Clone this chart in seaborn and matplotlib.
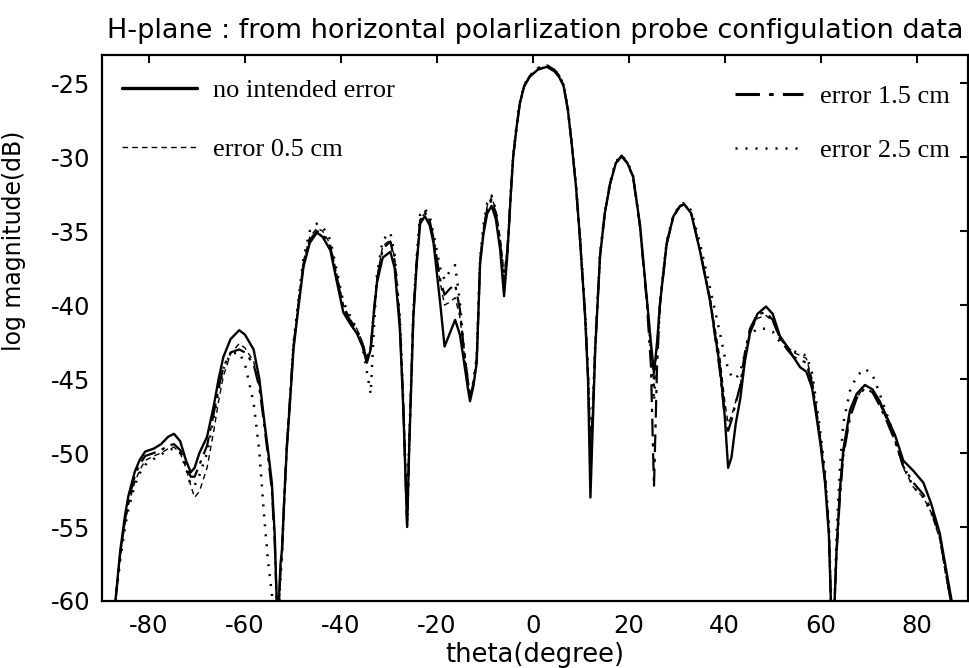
import matplotlib
matplotlib.use("Agg")
import matplotlib.pyplot as plt
import seaborn as sns
from matplotlib.lines import Line2D

theta = [
    -87.2, -87.0, -86.0, -85.0, -84.3, -83.0, -82.0, -80.8, -79.0, -77.5,
    -76.0, -74.8, -73.5, -72.3, -71.3, -70.5, -69.5, -67.9, -66.5, -65.5,
    -64.5, -63.0, -61.2, -60.0, -58.2, -57.0, -56.1, -55.2, -54.4, -53.8,
    -53.2, -52.6, -52.3, -51.8, -51.3, -50.5, -49.9, -48.8, -47.8, -46.5,
    -45.0, -43.8, -42.2, -40.8, -39.5, -38.0, -36.7, -35.5, -34.6, -33.8,
    -33.2, -32.5, -31.3, -29.7, -28.8, -27.7, -27.0, -26.5, -26.2, -25.8,
    -24.9, -24.2, -23.5, -22.5, -21.5, -20.7, -19.3, -18.4, -17.3, -16.2,
    -15.2, -14.5, -13.6, -13.1, -12.4, -11.7, -11.0, -10.3, -9.5, -8.6,
    -7.7, -6.8, -6.0, -5.4, -5.1, -4.6, -4.1, -3.4, -2.7, -1.8,
    -0.6, 1.0, 2.9, 4.5, 5.5, 6.4, 7.3, 8.1, 9.0, 9.8,
    10.9, 11.5, 12.0, 12.5, 13.0, 14.0, 15.0, 16.1, 17.3, 18.5,
    19.7, 20.9, 22.3, 23.7, 24.6, 25.25, 25.9, 26.5, 27.9, 29.3,
    30.7, 31.6, 33.0, 34.8, 36.9, 39.0, 40.0, 40.7, 41.4, 42.3,
    43.2, 44.2, 45.25, 46.8, 48.6, 50.0, 51.5, 53.0, 54.3, 55.7,
    57.0, 58.2, 59.1, 60.0, 60.9, 61.7, 62.3, 62.9, 63.3, 64.0,
    64.7, 66.1, 67.5, 69.2, 70.8, 72.3, 73.7, 75.5, 77.2, 79.3,
    81.4, 83.0, 84.8, 86.2, 87.3, 87.6,
]

no_error = [
    -62, -60, -56.6, -54.2, -52.9, -51.3, -50.5, -49.9, -49.7, -49.4,
    -48.9, -48.7, -49.2, -50.5, -51.3, -51.0, -50.0, -48.9, -46.8, -45.0,
    -43.5, -42.3, -41.7, -42.0, -43.0, -45.0, -47.5, -49.8, -52.0, -55.5,
    -62, -57.5, -56.6, -53.0, -49.8, -46.0, -43.0, -40.0, -37.4, -35.8,
    -35.1, -35.4, -36.3, -38.5, -40.5, -41.3, -41.9, -42.8, -43.9, -43.0,
    -40.8, -38.5, -36.8, -36.4, -37.5, -41.7, -47.0, -52.0, -55.0, -50.0,
    -40.8, -37.2, -34.5, -34.0, -34.6, -35.8, -39.9, -42.8, -41.9, -41.0,
    -42.0, -43.5, -45.5, -46.5, -45.5, -43.9, -37.2, -35.2, -33.8, -33.3,
    -34.2, -36.3, -39.4, -37.0, -35.4, -32.5, -30.0, -28.0, -26.35, -25.2,
    -24.55, -24.1, -23.9, -24.2, -24.6, -25.2, -26.8, -29.1, -32.0, -35.4,
    -40.8, -45.0, -53.0, -48.0, -43.0, -36.7, -33.8, -31.8, -30.4, -29.96,
    -30.4, -31.3, -34.5, -39.4, -42.5, -44.6, -42.5, -39.9, -35.8, -34.0,
    -33.3, -33.2, -33.8, -36.3, -39.65, -44.2, -47.5, -51.0, -50.3, -48.0,
    -46.4, -43.8, -41.9, -40.6, -40.1, -40.6, -42.1, -42.8, -43.5, -44.2,
    -44.5, -45.6, -47.5, -49.5, -52.0, -55.5, -62, -60, -56.6, -52.5,
    -49.8, -47.1, -46.0, -45.4, -45.7, -46.5, -47.5, -48.8, -50.5, -51.2,
    -52.0, -53.4, -55.4, -58.0, -60.0, -62,
]

error_05 = [
    -62, -60, -57.0, -54.8, -53.5, -52.0, -51.2, -50.5, -50.2, -50.0,
    -49.7, -49.6, -50.0, -51.0, -52.2, -53.0, -52.6, -51.0, -48.5, -46.5,
    -44.8, -43.3, -42.6, -42.9, -43.8, -45.5, -47.6, -50.0, -52.5, -56.0,
    -62, -58.0, -57.0, -53.0, -49.5, -45.6, -42.7, -39.7, -37.0, -35.4,
    -34.8, -35.0, -35.9, -38.0, -40.0, -41.0, -41.6, -42.5, -43.5, -42.8,
    -40.5, -38.2, -36.0, -35.6, -36.8, -41.0, -46.5, -51.5, -54.5, -49.5,
    -40.5, -37.0, -34.2, -33.8, -34.3, -35.5, -38.5, -40.0, -39.8, -39.5,
    -40.8, -42.8, -45.0, -46.2, -45.2, -43.6, -37.0, -34.8, -33.3, -32.7,
    -33.6, -35.5, -37.8, -36.4, -35.2, -32.4, -30.0, -28.0, -26.35, -25.2,
    -24.5, -24.1, -23.8, -24.1, -24.5, -25.1, -26.8, -29.1, -32.0, -35.4,
    -40.6, -44.5, -49.5, -47.0, -42.8, -36.7, -33.8, -31.8, -30.4, -29.9,
    -30.4, -31.4, -34.6, -39.5, -42.8, -45.5, -43.0, -40.0, -35.9, -34.0,
    -33.3, -33.2, -33.8, -36.2, -39.4, -43.6, -46.5, -48.0, -47.5, -46.5,
    -45.5, -43.5, -41.8, -40.9, -40.7, -41.1, -42.3, -42.8, -43.2, -43.4,
    -43.6, -45.0, -47.0, -49.0, -51.5, -55.0, -62, -60, -56.8, -53.0,
    -50.2, -47.5, -46.3, -45.4, -45.7, -46.7, -47.7, -49.2, -51.0, -52.3,
    -53.0, -54.0, -55.8, -58.5, -60.5, -62,
]

error_15 = [
    -62, -60, -56.8, -54.5, -53.2, -51.6, -50.8, -50.2, -50.0, -49.8,
    -49.5, -49.4, -49.8, -50.8, -51.6, -51.6, -50.8, -49.5, -47.3, -45.6,
    -44.2, -43.2, -43.0, -43.2, -44.0, -45.6, -47.8, -50.2, -52.5, -56.0,
    -62, -58.0, -56.8, -53.0, -49.6, -45.8, -42.8, -39.8, -37.2, -35.6,
    -35.0, -35.2, -36.1, -38.2, -40.2, -41.1, -41.7, -42.6, -43.8, -42.9,
    -40.6, -38.3, -36.2, -35.7, -37.0, -41.3, -46.8, -52.0, -55.0, -50.0,
    -40.6, -37.0, -34.3, -33.7, -34.3, -35.5, -38.3, -39.3, -38.9, -38.6,
    -40.3, -42.6, -45.0, -46.3, -45.3, -43.7, -37.1, -35.0, -33.5, -32.9,
    -33.8, -35.8, -38.6, -36.6, -35.3, -32.5, -30.0, -28.0, -26.35, -25.2,
    -24.5, -24.0, -23.8, -24.1, -24.5, -25.1, -26.8, -29.1, -32.0, -35.4,
    -40.7, -44.8, -50.0, -47.3, -42.9, -36.7, -33.8, -31.8, -30.4, -29.9,
    -30.4, -31.4, -34.6, -39.6, -44.0, -52.3, -44.0, -40.0, -35.9, -34.0,
    -33.3, -33.2, -33.8, -36.2, -39.6, -44.5, -47.5, -48.5, -47.8, -46.6,
    -45.5, -43.2, -41.6, -40.6, -40.5, -41.0, -42.3, -43.0, -43.5, -43.7,
    -43.9, -45.3, -47.2, -49.3, -51.8, -55.2, -62, -60, -56.8, -53.0,
    -50.2, -47.6, -46.3, -45.6, -45.9, -46.8, -47.8, -49.2, -50.9, -52.0,
    -52.8, -53.8, -55.6, -58.3, -60.3, -62,
]

error_25 = [
    -62, -60, -57.2, -55.0, -53.8, -52.2, -51.4, -50.8, -50.4, -50.1,
    -49.8, -49.7, -50.0, -51.0, -52.2, -52.2, -51.5, -50.0, -47.6, -45.8,
    -44.3, -43.3, -43.2, -44.0, -46.6, -49.9, -53.9, -57.3, -59.5, -62,
    -62, -58.5, -57.0, -53.2, -49.7, -45.8, -42.6, -39.5, -36.8, -35.0,
    -34.5, -34.7, -35.6, -37.8, -39.8, -40.8, -41.6, -42.8, -44.5, -46.0,
    -42.0, -38.0, -35.6, -35.1, -36.6, -41.0, -46.5, -51.5, -54.5, -49.5,
    -40.3, -36.7, -33.9, -33.5, -34.0, -35.2, -37.5, -38.3, -37.7, -37.3,
    -39.8, -42.5, -45.0, -46.3, -45.2, -43.5, -36.9, -34.6, -33.1, -32.6,
    -33.6, -35.8, -38.5, -36.6, -35.3, -32.4, -29.9, -27.9, -26.3, -25.1,
    -24.5, -24.0, -23.8, -24.1, -24.5, -25.1, -26.7, -29.0, -31.9, -35.3,
    -40.5, -44.5, -49.0, -46.8, -42.7, -36.6, -33.7, -31.7, -30.3, -29.9,
    -30.3, -31.3, -34.5, -39.4, -43.0, -46.5, -43.0, -39.8, -35.7, -33.9,
    -33.2, -33.1, -33.6, -35.8, -38.8, -41.9, -43.5, -44.3, -44.8, -45.0,
    -44.5, -43.3, -42.0, -41.6, -41.6, -41.8, -42.5, -42.8, -43.1, -43.3,
    -43.4, -44.6, -46.6, -48.8, -51.3, -54.8, -62, -60, -55.5, -51.0,
    -48.0, -45.8, -44.8, -44.3, -44.7, -46.0, -47.3, -49.0, -50.8, -52.3,
    -53.0, -54.0, -55.6, -58.3, -60.3, -62,
]

labels = ["no intended error", "error 0.5 cm", "error 1.5 cm", "error 2.5 cm"]
x_ticks = [-80, -60, -40, -20, 0, 20, 40, 60, 80]
y_ticks = [-25, -30, -35, -40, -45, -50, -55, -60]

sns.set_style("white")
plt.rcParams["font.family"] = ["DejaVu Sans"]
plt.rcParams["text.color"] = "black"
plt.rcParams["axes.labelcolor"] = "black"

fig = plt.figure(figsize=(9.7, 6.68), dpi=100)
ax = fig.add_axes([102 / 970, 1 - 601 / 668, 866 / 970, 546 / 668])

styles = [
    dict(lw=1.7, ls="-"),
    dict(lw=1.0, ls=(0, (4, 3))),
    dict(lw=1.6, ls=(0, (8, 3, 1.5, 3))),
    dict(lw=1.8, ls=(0, (0.8, 3.2))),
]
series = [no_error, error_05, error_15, error_25]
for vals, lab, st in zip(series, labels, styles):
    sns.lineplot(x=theta, y=vals, ax=ax, color="black", linewidth=st["lw"],
                 linestyle=st["ls"], legend=False, sort=False)

ax.set_xlim(-89.8, 90.7)
ax.set_ylim(-60, -23.1)
ax.set_xticks(x_ticks)
ax.set_yticks(y_ticks)
ax.set_xticklabels([str(v) for v in x_ticks])
ax.set_yticklabels([str(v) for v in y_ticks])
ax.tick_params(direction="in", length=6, width=1.5, top=True, right=True,
               labelsize=17.5, colors="black")
ax.tick_params(axis="x", pad=9.5)
ax.tick_params(axis="y", pad=8.5)
for sp in ax.spines.values():
    sp.set_linewidth(1.6)
    sp.set_color("black")

ax.set_xlabel("theta(degree)", fontsize=18.5, labelpad=3, color="black")
ax.set_ylabel("log magnitude(dB)", fontsize=17, labelpad=8, color="black")
ax.yaxis.set_label_coords(-0.088, 0.66)
ax.set_title("H-plane : from horizontal polarlization probe configulation data",
             fontsize=19.5, pad=12, x=0.5, color="black")

handles = []
legend_lw = [2.4, 1.0, 2.2, 1.8]
for st, lw in zip(styles, legend_lw):
    handles.append(Line2D([], [], color="black", lw=lw, ls=st["ls"]))

lfont = {"family": "Liberation Serif", "size": 19}
leg1 = ax.legend(handles[:2], labels[:2], loc="upper left",
                 bbox_to_anchor=(0.023, 0.956), frameon=False, prop=lfont,
                 handlelength=2.85, handletextpad=0.6, labelspacing=1.34,
                 borderaxespad=0, borderpad=0, labelcolor="black")
ax.add_artist(leg1)
ax.legend(handles[2:], labels[2:], loc="upper right",
          bbox_to_anchor=(0.979, 0.946), frameon=False, prop=lfont,
          handlelength=2.55, handletextpad=0.65, labelspacing=1.15,
          borderaxespad=0, borderpad=0, labelcolor="black")

fig.savefig("out.png", dpi=100)
